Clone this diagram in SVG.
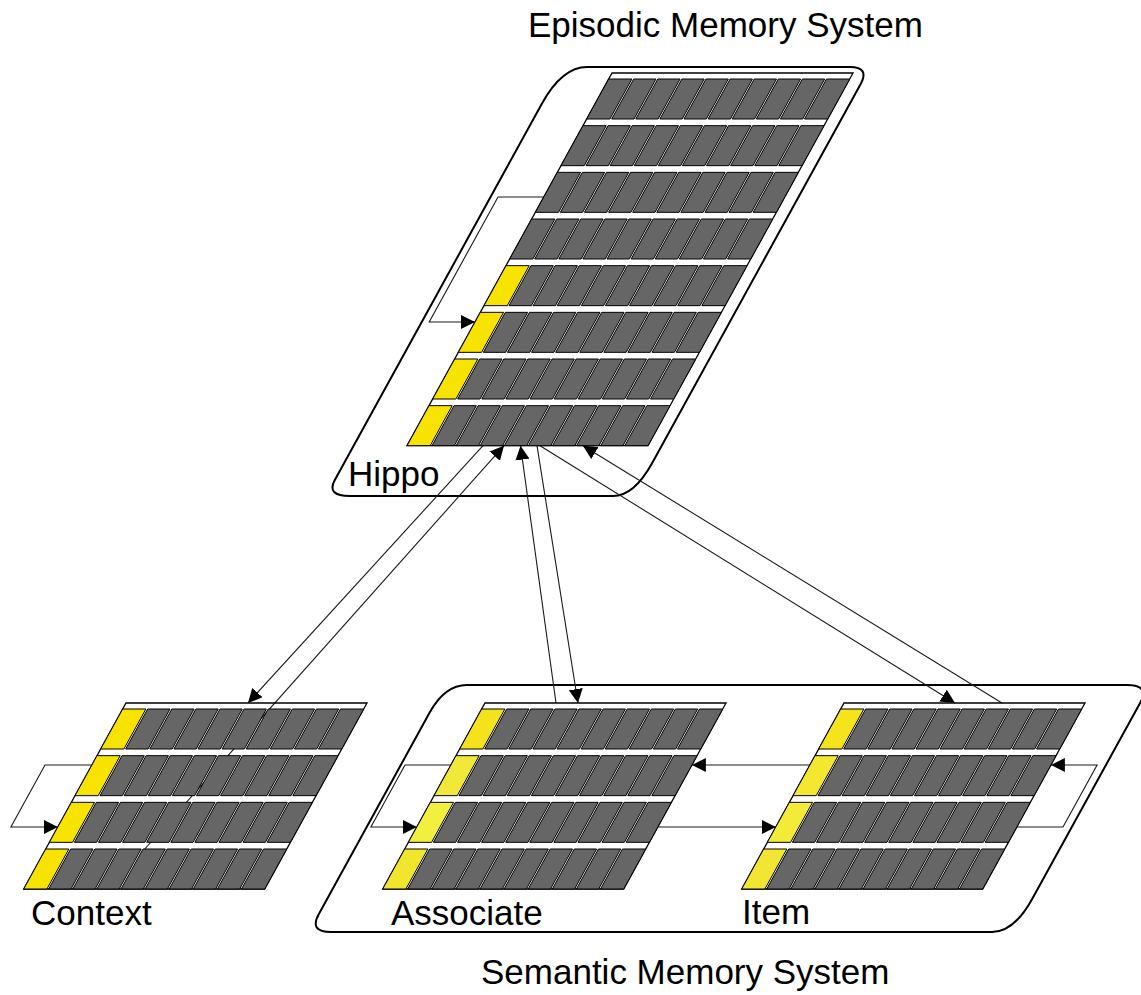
<svg xmlns="http://www.w3.org/2000/svg" width="1141" height="995" viewBox="0 0 1141 995">
  <style>
    .cell{fill:#666;stroke:#000;stroke-width:1}
    .edge{stroke:#000;stroke-width:1}
    .frame{fill:none;stroke:#000;stroke-width:1.3}
    .system{fill:none;stroke:#000;stroke-width:2}
    .link{fill:none;stroke:#1a1a1a;stroke-width:1.1}
    .label{font-family:"Liberation Sans",Arial,Helvetica,sans-serif;font-size:35px;fill:#000}
  </style>
  <defs>
    <marker id="arrow" markerUnits="userSpaceOnUse" viewBox="0 0 14 14" markerWidth="14" markerHeight="14" refX="14" refY="7" orient="auto">
      <path d="M0,0 L14,7 L0,14 z" fill="#000"/>
    </marker>
    <!-- leading unit of a row; fill comes from the <use> -->
    <polygon id="lead" class="edge" points="0,0 23.2,0 1.2,40 -22,40"/>
    <!-- remaining nine units of a row -->
    <g id="cells">
      <polygon class="cell" points="25,0 47.3,0 25.3,40 3,40"/>
      <polygon class="cell" points="49.1,0 71.4,0 49.4,40 27.1,40"/>
      <polygon class="cell" points="73.2,0 95.5,0 73.5,40 51.2,40"/>
      <polygon class="cell" points="97.3,0 119.6,0 97.6,40 75.3,40"/>
      <polygon class="cell" points="121.4,0 143.7,0 121.7,40 99.4,40"/>
      <polygon class="cell" points="145.5,0 167.8,0 145.8,40 123.5,40"/>
      <polygon class="cell" points="169.6,0 191.9,0 169.9,40 147.6,40"/>
      <polygon class="cell" points="193.7,0 216,0 194,40 171.7,40"/>
      <polygon class="cell" points="217.8,0 241,0 219,40 195.8,40"/>
    </g>
  </defs>

  <rect width="1141" height="995" fill="#fff"/>

  <!-- system outlines -->
  <g id="episodic-system">
    <path class="system" d="M587,67 L850,67 Q870,67 860.4,84.5 L652.2,463 Q634,496 613,496 L350,496 Q326,496 334.8,480 L541.7,104 Q562,67 587,67 Z"/>
    <text class="label" x="528" y="37">Episodic Memory System</text>
  </g>
  <g id="semantic-system">
    <path class="system" d="M466.8,685 L1127,685 Q1150,685 1140.1,703 L1032.3,898.7 Q1014,932 992,932 L331,932 Q309,932 318.6,914.5 L429.4,713 Q444.8,685 466.8,685 Z"/>
    <text class="label" x="481" y="984">Semantic Memory System</text>
  </g>

  <!-- connectors -->
  <g id="connectors">
    <!-- Hippo recurrent loop -->
    <path class="link" d="M543.8,197 H498 L429.2,322 H475" marker-end="url(#arrow)"/>
    <!-- Context recurrent loop -->
    <path class="link" d="M91.9,765 H45 L10.9,827 H57.8" marker-end="url(#arrow)"/>
    <!-- Associate recurrent loop -->
    <path class="link" d="M450.9,765 H405 L370.9,827 H416.8" marker-end="url(#arrow)"/>
    <!-- Item recurrent loop -->
    <path class="link" d="M1016.8,827 H1063 L1097.1,765 H1050.9" marker-end="url(#arrow)"/>
    <!-- Associate / Item -->
    <path class="link" d="M657.8,827 H775.8" marker-end="url(#arrow)"/>
    <path class="link" d="M809.9,765 H691.9" marker-end="url(#arrow)"/>
    <!-- Hippo / Context -->
    <path class="link" d="M483,445.7 L248,703" marker-end="url(#arrow)"/>
    <path class="link" d="M143,851 L504,445.7" marker-end="url(#arrow)"/>
    <!-- Hippo / Associate -->
    <path class="link" d="M556,703 L520.5,445.7" marker-end="url(#arrow)"/>
    <path class="link" d="M537,445.7 L578,703" marker-end="url(#arrow)"/>
    <!-- Hippo / Item -->
    <path class="link" d="M540,445.7 L955,703" marker-end="url(#arrow)"/>
    <path class="link" d="M1002,703 L583,445.7" marker-end="url(#arrow)"/>
  </g>

  <!-- Hippo layer: 8 rows -->
  <g id="hippo">
    <polygon class="frame" points="612,73 853,73 648,445.7 407,445.7"/>
    <g transform="translate(608.7,79)"><use href="#lead" fill="#666"/><use href="#cells"/></g>
    <g transform="translate(583.03,125.67)"><use href="#lead" fill="#666"/><use href="#cells"/></g>
    <g transform="translate(557.37,172.33)"><use href="#lead" fill="#666"/><use href="#cells"/></g>
    <g transform="translate(531.7,219)"><use href="#lead" fill="#666"/><use href="#cells"/></g>
    <g transform="translate(506.03,265.67)"><use href="#lead" fill="#f7e200"/><use href="#cells"/></g>
    <g transform="translate(480.37,312.33)"><use href="#lead" fill="#f7e200"/><use href="#cells"/></g>
    <g transform="translate(454.7,359)"><use href="#lead" fill="#f7e200"/><use href="#cells"/></g>
    <g transform="translate(429.03,405.67)"><use href="#lead" fill="#f7e200"/><use href="#cells"/></g>
    <text class="label" x="348" y="486">Hippo</text>
  </g>

  <!-- Context layer -->
  <g id="context">
    <polygon class="frame" points="126,703 367,703 264.7,889 23.7,889"/>
    <g transform="translate(122.7,709)"><use href="#lead" fill="#f7e200"/><use href="#cells"/></g>
    <g transform="translate(97.03,755.67)"><use href="#lead" fill="#f7e200"/><use href="#cells"/></g>
    <g transform="translate(71.37,802.33)"><use href="#lead" fill="#f7e200"/><use href="#cells"/></g>
    <g transform="translate(45.7,849)"><use href="#lead" fill="#f7e200"/><use href="#cells"/></g>
    <text class="label" x="31" y="925">Context</text>
  </g>

  <!-- Associate layer -->
  <g id="associate">
    <polygon class="frame" points="485,703 726,703 623.7,889 382.7,889"/>
    <g transform="translate(481.7,709)"><use href="#lead" fill="#f4e31c"/><use href="#cells"/></g>
    <g transform="translate(456.03,755.67)"><use href="#lead" fill="#f2e83a"/><use href="#cells"/></g>
    <g transform="translate(430.37,802.33)"><use href="#lead" fill="#f3ef3e"/><use href="#cells"/></g>
    <g transform="translate(404.7,849)"><use href="#lead" fill="#f1e62c"/><use href="#cells"/></g>
    <text class="label" x="391" y="925">Associate</text>
  </g>

  <!-- Item layer -->
  <g id="item">
    <polygon class="frame" points="844,703 1085,703 982.7,889 741.7,889"/>
    <g transform="translate(840.7,709)"><use href="#lead" fill="#f5e41c"/><use href="#cells"/></g>
    <g transform="translate(815.03,755.67)"><use href="#lead" fill="#f3e730"/><use href="#cells"/></g>
    <g transform="translate(789.37,802.33)"><use href="#lead" fill="#f4eb36"/><use href="#cells"/></g>
    <g transform="translate(763.7,849)"><use href="#lead" fill="#f2e632"/><use href="#cells"/></g>
    <text class="label" x="742" y="924">Item</text>
  </g>
</svg>
